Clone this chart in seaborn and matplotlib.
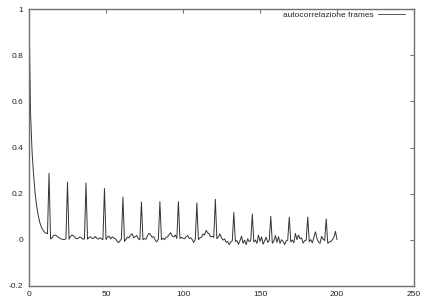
import matplotlib
matplotlib.use("Agg")
import matplotlib.pyplot as plt
import seaborn as sns
import numpy as np
import pandas as pd
from matplotlib.ticker import FormatStrFormatter, FuncFormatter

# ---- data (autocorrelation per lag) ----
lags = list(range(0, 201))
autocorr = [
    1.0, 0.55, 0.38, 0.28, 0.20, 0.145, 0.105, 0.075, 0.055, 0.042, 0.033, 0.028, 0.026,
    0.288,
    0.003, 0.008, 0.018, 0.02, 0.016, 0.01, 0.006, 0.003, 0.001, 0.0, 0.004,
    0.25,
    0.002, 0.014, 0.02, 0.016, 0.008, 0.004, 0.006, 0.012, 0.008, 0.002, 0.003,
    0.246,
    0.002, 0.01, 0.012, 0.005, 0.006, 0.014, 0.006, 0.002, 0.008, 0.004, 0.0,
    0.222,
    0.0, 0.012, 0.015, 0.003, 0.012, 0.008, 0.004, -0.005, -0.013, -0.006, 0.003,
    0.185,
    -0.008, 0.002, 0.012, 0.008, 0.02, 0.025, 0.008, 0.013, 0.018, 0.004, 0.0,
    0.163,
    0.0, 0.004, 0.002, 0.018, 0.028, 0.02, 0.01, 0.013, -0.002, -0.01, 0.002,
    0.165,
    0.0, 0.006, 0.0, 0.01, 0.012, 0.022, 0.03, 0.015, 0.012, 0.02, 0.005,
    0.165,
    0.005, 0.01, 0.006, 0.004, 0.012, 0.018, 0.005, 0.008, 0.0, -0.012, 0.003,
    0.159,
    0.0, 0.008, 0.01, 0.025, 0.02, 0.04, 0.03, 0.025, 0.012, 0.015, 0.01,
    0.175,
    0.004, 0.012, 0.025, 0.008, -0.002, 0.003, -0.012, -0.008, -0.022, -0.01, -0.005,
    0.118,
    -0.008, -0.004, -0.02, -0.005, 0.015, -0.016, -0.002, -0.022, 0.004, -0.009, -0.004,
    0.111,
    -0.01, -0.002, -0.016, 0.02, -0.008, 0.012, -0.02, -0.005, 0.01, -0.012, -0.004,
    0.101,
    -0.016, -0.006, 0.018, -0.012, 0.013, -0.016, 0.0, -0.008, -0.022, -0.005, -0.003,
    0.097,
    -0.01, -0.002, -0.014, 0.027, 0.0, 0.02, 0.004, 0.008, -0.015, -0.005, -0.002,
    0.098,
    -0.009, 0.0, -0.014, 0.01, 0.034, 0.004, -0.01, -0.016, 0.014, 0.002, -0.004,
    0.09,
    -0.016, -0.01, -0.009, 0.0, 0.01, 0.036, 0.0,
]
assert len(autocorr) == len(lags)

x_ticks = [0, 50, 100, 150, 200, 250]
y_ticks = [-0.2, 0, 0.2, 0.4, 0.6, 0.8, 1]
series_label = "autocorrelazione frames"

df = pd.DataFrame({"lag": lags, "value": autocorr})

sns.set_style("white")
plt.rcParams["font.family"] = ["Liberation Sans", "DejaVu Sans"]

fig = plt.figure(figsize=(4.25, 3.0), dpi=100)
ax = fig.add_axes([29 / 425, (300 - 285.7) / 300, (414 - 29) / 425, (285.7 - 9.3) / 300])

sns.lineplot(data=df, x="lag", y="value", ax=ax, color="#333333",
             linewidth=0.7, label=series_label)

ax.set_xlim(0, 250)
ax.set_ylim(-0.2, 1)
ax.set_xticks(x_ticks)
ax.set_yticks(y_ticks)
ax.xaxis.set_major_formatter(FuncFormatter(lambda v, p: "%g" % v))
ax.yaxis.set_major_formatter(FuncFormatter(lambda v, p: "%g" % round(v, 2)))
ax.set_xlabel("")
ax.set_ylabel("")

for s in ax.spines.values():
    s.set_color("#707070")
    s.set_linewidth(1.0)
    s.set_visible(True)

ax.tick_params(axis="both", which="major", direction="in", length=3, width=0.8,
               color="#707070", labelsize=6, labelcolor="#222222",
               top=True, right=True, pad=4)

leg = ax.legend(loc="upper right", bbox_to_anchor=(0.976, 0.995), frameon=False,
                markerfirst=False, fontsize=6, handlelength=3.2, handletextpad=0.5,
                borderpad=0, borderaxespad=0)
for line in leg.get_lines():
    line.set_color("#555555")
    line.set_linewidth(0.7)

fig.savefig("out.png", dpi=100)
